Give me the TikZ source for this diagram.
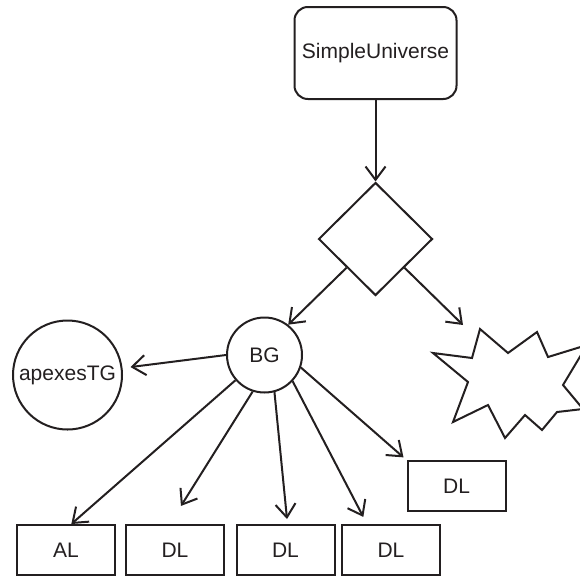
\documentclass[tikz,border=0pt]{standalone}
\usepackage{fontspec}
\setmainfont{Liberation Sans}
\usetikzlibrary{arrows.meta,shapes.geometric}
\definecolor{ink}{HTML}{231F20}
\tikzset{
  itembase/.style={draw=ink,line width=1.5pt,text=ink,font=\fontsize{15.75}{19}\selectfont,inner sep=0pt},
  root/.style={itembase,rounded corners=10pt,minimum width=121.5pt,minimum height=69pt},
  choice/.style={itembase,diamond,minimum width=85.5pt,minimum height=84.75pt},
  ring/.style={itembase,circle,minimum size=#1},
  leaf/.style={itembase,minimum width=73.5pt,minimum height=37.5pt},
  flow/.style={-{Straight Barb[length=10pt,width=15pt]},line width=1.5pt,draw=ink},
  burst/.style={draw=ink,line width=1.5pt,line join=miter}
}

\begin{document}
\begin{tikzpicture}[x=0.75pt,y=-0.75pt]
    \useasboundingbox (0,0) rectangle (580,575);

    \node[root] (su) at (375.5,53) {SimpleUniverse};
    \node[choice] (pick) at (375.5,239) {};
    \node[ring=56.25pt] (bg) at (264.5,355) {BG};
    \node[ring=81.75pt] (apexes) at (67.5,375) {apexesTG};

    \node[leaf] (al) at (66,550) {AL};
    \node[leaf] (dla) at (175,550) {DL};
    \node[leaf] (dlb) at (285.5,550) {DL};
    \node[leaf] (dlc) at (391,550) {DL};
    \node[leaf] (dld) at (456.5,486) {DL};

    % starburst, cut by the right edge
    \draw[burst] (480,329) -- (508,353) -- (537,332) -- (548,357) -- (587,345) -- (563,385)
      -- (583,409) -- (557,412) -- (542,430) -- (525,415) -- (505,438) -- (488,405)
      -- (453,422) -- (468,382) -- (433,353) -- (472,358) -- cycle;
    \coordinate (burstin) at (463,325);

    \draw[flow] (su) -- (pick);
    \draw[flow] (pick.south west) -- (bg.52);
    \draw[flow] (pick.south east) -- (burstin);
    \draw[flow,shorten >=6pt] (bg.west) -- (apexes);
    \draw[flow] (bg.221) -- ([xshift=4pt]al.north);
    \draw[flow,shorten >=16pt] (bg.252) -- ([xshift=-4pt]dla.north);
    \draw[flow,shorten >=3.75pt] (bg.285) -- ([xshift=1.5pt]dlb.north);
    \draw[flow,shorten >=6pt] (bg.317) -- ([xshift=-18pt]dlc.north);
    \draw[flow,shorten >=3pt] (bg.341) -- (dld.north west);
\end{tikzpicture}
\end{document}
